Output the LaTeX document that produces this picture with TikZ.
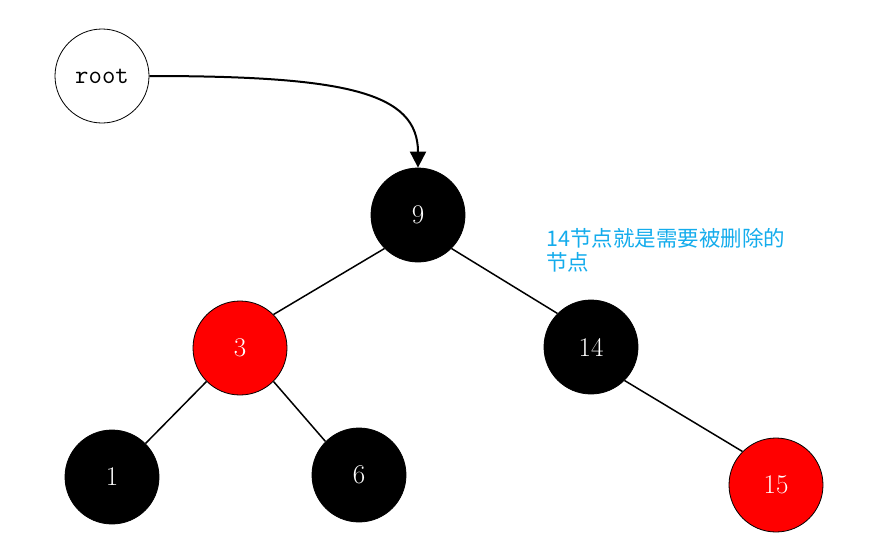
\documentclass[tikz,border=0pt]{standalone}
\usepackage{fontspec}
\newfontfamily\cjkfont{Noto Sans CJK SC}
\usetikzlibrary{arrows.meta}
\definecolor{notecol}{RGB}{20,172,236}
\definecolor{rbred}{RGB}{255,0,0}
\begin{document}
\begin{tikzpicture}[x=1pt,y=-1pt,
  rbnode/.style={circle,minimum size=94pt,inner sep=0pt,draw=black,line width=0.8pt,
    text=white,font=\fontsize{27}{30}\selectfont},
  blacknode/.style={rbnode,fill=black},
  rednode/.style={rbnode,fill=rbred},
  rootnode/.style={circle,minimum size=94pt,inner sep=0pt,draw=black,line width=0.8pt,fill=white,
    font=\ttfamily\fontsize{26}{30}\selectfont},
  edge/.style={line width=1.5pt,black},
  pointer/.style={line width=2pt,black,-{Triangle[length=16pt,width=16pt]}},
  note/.style={text=notecol,anchor=north west,align=left,inner sep=0pt,
    font=\cjkfont\fontsize{21.5}{24.5}\selectfont}
]
\useasboundingbox (0,0) rectangle (872,546);
\node[rootnode] (root) at (102,76) {root};
\node[blacknode] (n9) at (418,215) {9};
\node[rednode] (n3) at (240,348) {3};
\node[blacknode] (n14) at (591,347) {14};
\node[blacknode] (n1) at (112,477) {1};
\node[blacknode] (n6) at (359,475) {6};
\node[rednode] (n15) at (776,485) {15};
\node[note] (txt) at (546,228) {14节点就是需要被删除的\\节点};
\draw[edge] (n9.225) -- (n3.45);
\draw[edge] (n9.315) -- (n14.135);
\draw[edge] (n3.225) -- (n1.45);
\draw[edge] (n3.315) -- (n6.135);
\draw[edge] (n14.315) -- (n15.135);
\draw[pointer] (root.east) .. controls (345,76) and (418,92) .. (n9.north);
\end{tikzpicture}
\end{document}
